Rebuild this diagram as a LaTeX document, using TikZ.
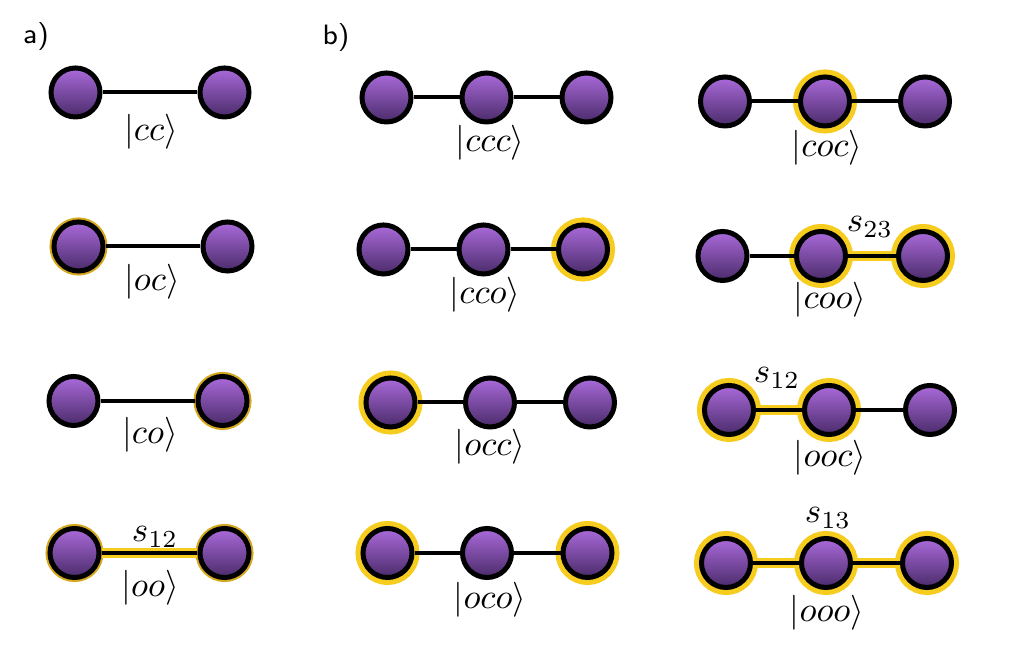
\documentclass[tikz,border=0pt]{standalone}
\usepackage{amsmath, amssymb}
\usepackage{tikz}
\usetikzlibrary{positioning}
\definecolor{qbTop}{RGB}{170,106,218}
\definecolor{qbBottom}{RGB}{74,43,106}
\definecolor{qbYellow}{RGB}{246,204,30}
\definecolor{qbGold}{RGB}{214,168,30}

\begin{document}
\begin{tikzpicture}[x=0.2857pt, y=-0.2857pt,
    site/.style={circle, draw=black, line width=1.43pt, top color=qbTop, bottom color=qbBottom, minimum size=14pt, inner sep=0pt},
    opensite/.style={site, preaction={draw=qbYellow, line width=4.3pt}},
    thinopen/.style={site, preaction={draw=qbGold, line width=2.6pt}},
    bond/.style={draw=black, line width=1.15pt},
    openbond/.style={bond, preaction={draw=qbYellow, line width=2.9pt}},
    thinbond/.style={bond, preaction={draw=qbYellow, line width=2.6pt}},
    ket/.style={inner sep=0pt},
    panel/.style={inner sep=0pt, font=\sffamily\footnotesize}]
    \useasboundingbox (0,0) rectangle (1024,650);

    % panel a)
    \node[panel] (pa) at (36,37) {a)};
    \node[site] (a1l) at (75.5,92.5) {};
    \node[site] (a1r) at (224.5,92.5) {};
    \draw[bond] (a1l) -- (a1r);
    \node[ket] (ka1) at (151,132) {$|cc\rangle$};

    \node[thinopen] (a2l) at (78.5,246.5) {};
    \node[site] (a2r) at (227.5,246.5) {};
    \draw[bond] (a2l) -- (a2r);
    \node[ket] (ka2) at (152,282) {$|oc\rangle$};

    \node[site] (a3l) at (73.5,401) {};
    \node[thinopen] (a3r) at (222.5,401) {};
    \draw[bond] (a3l) -- (a3r);
    \node[ket] (ka3) at (150,435) {$|co\rangle$};

    \node[thinopen] (a4l) at (74.5,553) {};
    \node[thinopen] (a4r) at (224.5,553) {};
    \draw[thinbond] (a4l) -- (a4r);
    \node[ket] (sa4) at (155,537) {$s_{12}$};
    \node[ket] (ka4) at (150,588) {$|oo\rangle$};

    % panel b), left column
    \node[panel] (pb) at (336,38) {b)};
    \node[site] (b1a) at (386.5,97.5) {};
    \node[site] (b1b) at (486.5,97.5) {};
    \node[site] (b1c) at (586.5,97.5) {};
    \draw[bond] (b1a) -- (b1b);
    \draw[bond] (b1b) -- (b1c);
    \node[ket] (kb1) at (490,143) {$|ccc\rangle$};

    \node[site] (b2a) at (383.5,249.5) {};
    \node[site] (b2b) at (483.5,249.5) {};
    \node[opensite] (b2c) at (583,249.5) {};
    \draw[bond] (b2a) -- (b2b);
    \draw[bond] (b2b) -- (b2c);
    \node[ket] (kb2) at (485,295) {$|cco\rangle$};

    \node[opensite] (b3a) at (390.5,402.5) {};
    \node[site] (b3b) at (490,402.5) {};
    \node[site] (b3c) at (590,402.5) {};
    \draw[bond] (b3a) -- (b3b);
    \draw[bond] (b3b) -- (b3c);
    \node[ket] (kb3) at (490,447) {$|occ\rangle$};

    \node[opensite] (b4a) at (387.5,553) {};
    \node[site] (b4b) at (487,553) {};
    \node[opensite] (b4c) at (587.5,553) {};
    \draw[bond] (b4a) -- (b4b);
    \draw[bond] (b4b) -- (b4c);
    \node[ket] (kb4) at (490,600) {$|oco\rangle$};

    % panel b), right column
    \node[site] (c1a) at (725,101.5) {};
    \node[opensite] (c1b) at (825,101.5) {};
    \node[site] (c1c) at (925,101.5) {};
    \draw[bond] (c1a) -- (c1b);
    \draw[bond] (c1b) -- (c1c);
    \node[ket] (kc1) at (827,148) {$|coc\rangle$};

    \node[site] (c2a) at (722.5,256) {};
    \node[opensite] (c2b) at (821,256) {};
    \node[opensite] (c2c) at (923,256) {};
    \draw[bond] (c2a) -- (c2b);
    \draw[openbond] (c2b) -- (c2c);
    \node[ket] (sc2) at (870,227) {$s_{23}$};
    \node[ket] (kc2) at (830,300) {$|coo\rangle$};

    \node[opensite] (c3a) at (729,410) {};
    \node[opensite] (c3b) at (829,410) {};
    \node[site] (c3c) at (930,410) {};
    \draw[openbond] (c3a) -- (c3b);
    \draw[bond] (c3b) -- (c3c);
    \node[ket] (sc3) at (777,378) {$s_{12}$};
    \node[ket] (kc3) at (830,458) {$|ooc\rangle$};

    \node[opensite] (c4a) at (726,563) {};
    \node[opensite] (c4b) at (826,563) {};
    \node[opensite] (c4c) at (927,563) {};
    \draw[openbond] (c4a) -- (c4b);
    \draw[openbond] (c4b) -- (c4c);
    \node[ket] (sc4) at (828,518) {$s_{13}$};
    \node[ket] (kc4) at (827,613) {$|ooo\rangle$};
\end{tikzpicture}
\end{document}
